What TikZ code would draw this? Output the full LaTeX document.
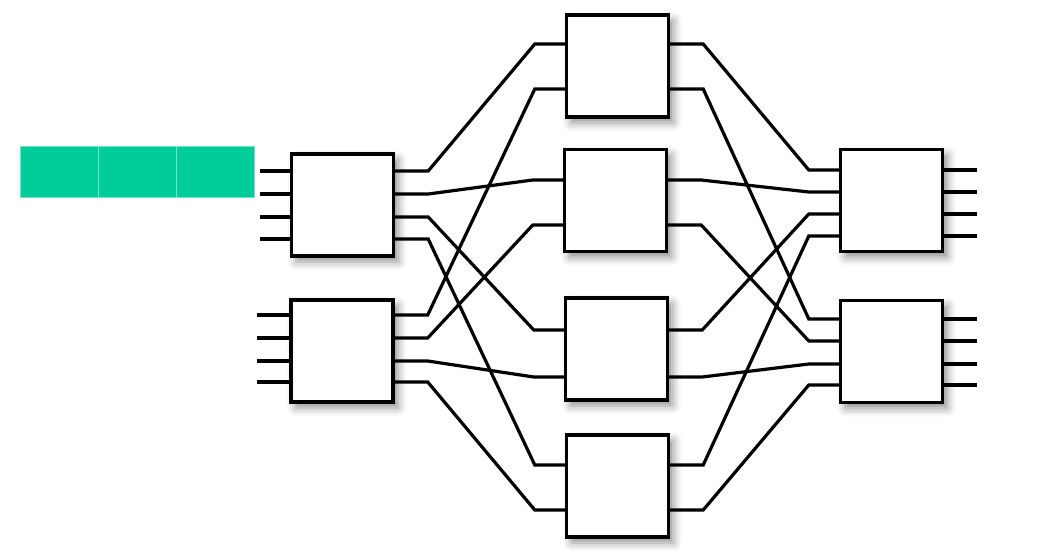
\documentclass[tikz,border=0pt]{standalone}
\usetikzlibrary{calc,shadows.blur}
\definecolor{sgreen}{RGB}{0,204,153}
\tikzset{
 sw/.style={draw,line width=0.085cm,fill=white,minimum width=2.55cm,minimum height=2.55cm,inner sep=0pt,
   blur shadow={shadow xshift=3.5pt,shadow yshift=-4pt,shadow blur radius=6pt,shadow opacity=45}},
 wire/.style={line width=0.08cm},
 cell/.style={fill=sgreen,draw=sgreen!55!white,line width=0.5pt,minimum width=1.95cm,minimum height=1.275cm,inner sep=0pt}
}
\newcommand{\link}[4]{\draw[wire] (#1.east |- 0,#2) -- ++(33,0) -- ($(#3.west |- 0,#4)+(-30,0)$) -- (#3.west |- 0,#4);}
\begin{document}
\begin{tikzpicture}[x=0.025cm,y=-0.025cm]
 \useasboundingbox (0,0) rectangle (1038,552);
 % queue
 \node[cell] (c1) at (59,171.5) {};
 \node[cell] (c2) at (137,171.5) {};
 \node[cell] (c3) at (215,171.5) {};
 % switches
 \node[sw] (l1) at (342.5,205) {};
 \node[sw] (l2) at (342,351) {};
 \node[sw] (m1) at (617.5,66) {};
 \node[sw] (m2) at (615.5,200.5) {};
 \node[sw] (m3) at (616.5,349) {};
 \node[sw] (m4) at (617.5,486) {};
 \node[sw] (r1) at (891.5,200.5) {};
 \node[sw] (r2) at (891.5,351.5) {};
 % inputs and outputs
 \foreach \y in {171,194,217,239} \draw[wire] (l1.west |- 0,\y) -- ++(-30,0);
 \foreach \y in {315,338,361,382} \draw[wire] (l2.west |- 0,\y) -- ++(-32,0);
 \foreach \y in {170,192,214,236} \draw[wire] (r1.east |- 0,\y) -- ++(33,0);
 \foreach \y in {319,341,364,385} \draw[wire] (r2.east |- 0,\y) -- ++(33,0);
 % links
 \foreach \a/\ya/\b/\yb in {l1/171/m1/44, l1/194/m2/180, l1/217/m3/330, l1/239/m4/465,
   l2/315/m1/89, l2/338/m2/225, l2/361/m3/377, l2/382/m4/510,
   m1/44/r1/170, m1/89/r2/319, m2/180/r1/192, m2/225/r2/341,
   m3/330/r1/214, m3/377/r2/364, m4/465/r1/236, m4/510/r2/385}
   {\link{\a}{\ya}{\b}{\yb}}
\end{tikzpicture}
\end{document}
